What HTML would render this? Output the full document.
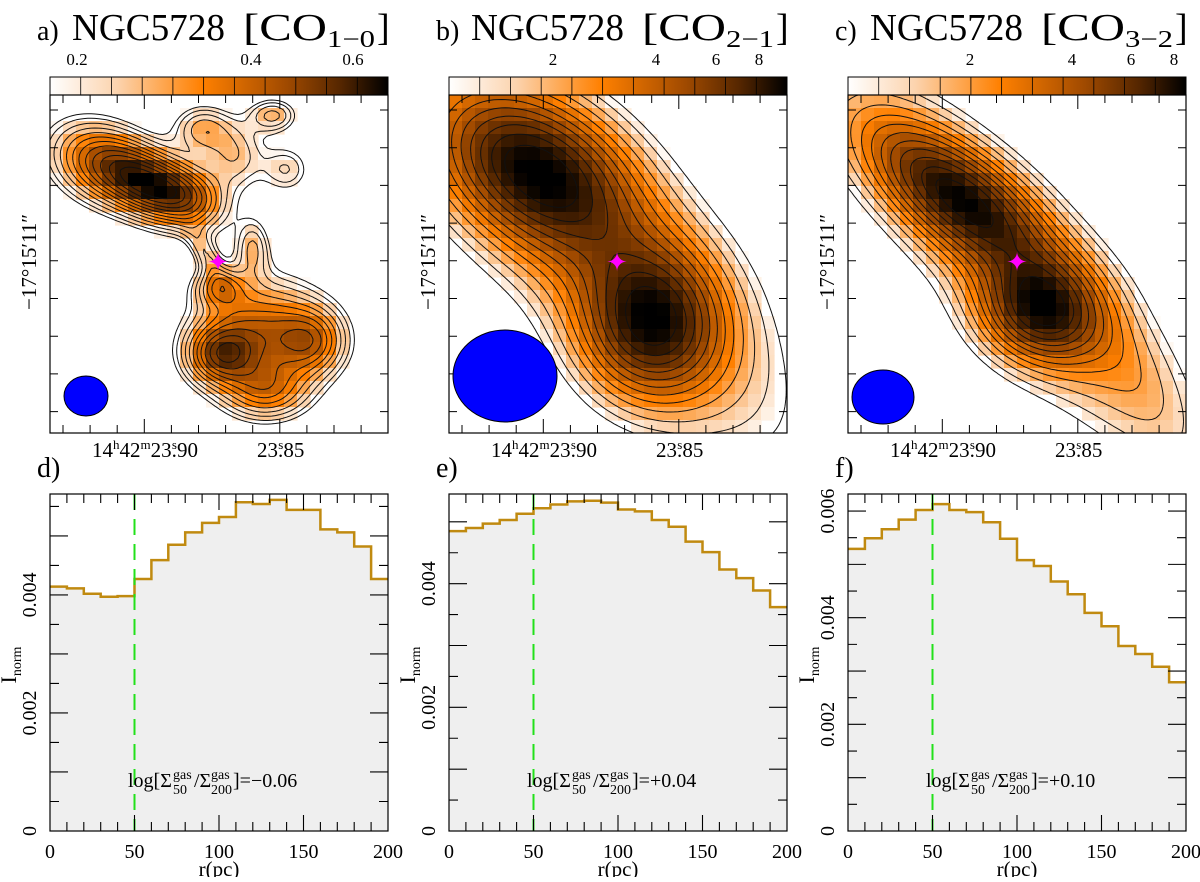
<!DOCTYPE html>
<html><head><meta charset="utf-8"><style>
body{margin:0;background:#fff}
svg text{font-family:"Liberation Serif",serif;fill:#000}
</style></head><body>
<svg id="fig" width="1200" height="877" viewBox="0 0 1200 877" xmlns="http://www.w3.org/2000/svg">
<defs>
<linearGradient id="cbar" x1="0" x2="1" y1="0" y2="0">
<stop offset="0" stop-color="#ffffff"/><stop offset="0.2" stop-color="#fcd3ad"/><stop offset="0.45" stop-color="#ff8000"/><stop offset="0.7" stop-color="#a04a00"/><stop offset="0.86" stop-color="#552600"/><stop offset="1" stop-color="#000"/>
</linearGradient>
</defs>
</svg>
<script>
// ---------- histogram data ----------
const rBins = [0,10,20,30,40,50,60,70,80,90,100,110,120,130,140,150,160,170,180,190];
const dVals = [0.00414,0.00411,0.00402,0.00397,0.00398,0.00427,0.00459,0.00485,0.00506,0.00522,0.00532,0.00557,0.00554,0.00561,0.00544,0.00544,0.00511,0.00506,0.00482,0.00427];
const eVals = [0.00485,0.00490,0.00497,0.00503,0.00513,0.00522,0.00528,0.00533,0.00534,0.00531,0.00520,0.00517,0.00503,0.00492,0.00468,0.00451,0.00423,0.00409,0.00389,0.00362];
const fVals = [0.00529,0.00549,0.00566,0.00584,0.00602,0.00613,0.00602,0.00598,0.00579,0.00548,0.00508,0.00497,0.00468,0.00444,0.00409,0.00384,0.00347,0.00332,0.00308,0.00279];
const dMax = 0.00571, eMax = 0.00545, fMax = 0.00632;
const yTickD = ["0","0.002","0.004"];
const yTickF = ["0","0.002","0.004","0.006"];
const xTickLabels = ["0","50","100","150","200"];
const ratioD = "\u22120.06", ratioE = "+0.04", ratioF = "+0.10";
// ---------- map components: [cx, cy, sx, sy, angleDeg, amp] (normalized) ----------
const compA = [[0.15,0.2,0.11,0.08,25,0.7],[0.3,0.27,0.1,0.065,30,0.9],[0.42,0.3,0.08,0.06,30,0.5],[0.45,0.1,0.06,0.05,0,0.4],[0.66,0.06,0.05,0.035,0,0.4],[0.55,0.18,0.06,0.07,0,0.35],[0.7,0.22,0.05,0.05,0,0.3],[0.46,0.47,0.025,0.06,-30,0.3],[0.5,0.57,0.05,0.04,0,0.45],[0.62,0.7,0.13,0.11,0,0.7],[0.5,0.77,0.07,0.06,0,0.65],[0.78,0.73,0.07,0.07,0,0.5],[0.64,0.88,0.09,0.06,0,0.5],[0.6,0.45,0.035,0.06,0,0.35]];
const compB = [[0.25,0.22,0.22,0.14,30,0.9],[0.6,0.68,0.14,0.15,0,0.85],[0.47,0.47,0.5,0.19,48,0.5]];
const compC = [[0.33,0.3,0.22,0.09,35,0.9],[0.57,0.64,0.12,0.1,15,0.85],[0.48,0.5,0.48,0.13,48,0.5],[0.85,0.8,0.2,0.08,60,0.12]];

const svg = document.getElementById('fig');
const NS = 'http://www.w3.org/2000/svg';
function el(tag, attrs, parent){const e=document.createElementNS(NS,tag);for(const k in attrs)e.setAttribute(k,attrs[k]);(parent||svg).appendChild(e);return e;}
function txt(x,y,s,size,parent,anchor,extra){const t=el('text',Object.assign({x:x,y:y,'font-size':size,'text-anchor':anchor||'start'},extra||{}),parent);t.innerHTML=s;return t;}

const stops=[[0,[255,255,255]],[0.2,[252,211,173]],[0.45,[255,128,0]],[0.7,[160,74,0]],[0.86,[85,38,0]],[1,[0,0,0]]];
function cmap(t){t=Math.max(0,Math.min(1,t));for(let i=1;i<stops.length;i++){if(t<=stops[i][0]){const a=stops[i-1],b=stops[i];const f=(t-a[0])/(b[0]-a[0]);return 'rgb('+a[1].map((c,j)=>Math.round(c+(b[1][j]-c)*f)).join(',')+')';}}return '#000';}
function field(comps,u,v){let s=0;for(const c of comps){const a=c[4]*Math.PI/180;const dx=u-c[0],dy=v-c[1];const x=dx*Math.cos(a)+dy*Math.sin(a),y=-dx*Math.sin(a)+dy*Math.cos(a);s+=c[5]*Math.exp(-0.5*(x*x/(c[2]*c[2])+y*y/(c[3]*c[3])));}return s;}

function mapPanel(id,x0,comps,thr,gam,label,sub,cbTicks,cbLabels,beam,star){
  const g=el('g',{});
  
  
  const top=95,W=338,H=338;
  const t1=txt(x0-13,40,label+')',28,g);
  const t2=txt(x0+22,40,'NGC5728',38,g,'start',{textLength:153,lengthAdjust:'spacingAndGlyphs'});
  const t3=txt(x0+193,40,'[CO',38,g,'start',{textLength:84,lengthAdjust:'spacingAndGlyphs'});
  const t4=txt(x0+277,47,sub,24,g,'start',{textLength:48,lengthAdjust:'spacingAndGlyphs'});
  const t5=txt(x0+327,40,']',38,g);
  const N=26,cs=W/N;let mx=0;
  const vals=[];for(let j=0;j<N;j++){vals.push([]);for(let i=0;i<N;i++){const v=field(comps,(i+0.5)/N,(j+0.5)/N);vals[j].push(v);mx=Math.max(mx,v);}}
  const hm=el('g',{},g);
  for(let j=0;j<N;j++)for(let i=0;i<N;i++){const v=vals[j][i];if(v<thr)continue;
    const r=el('rect',{x:x0+i*cs,y:top+j*cs,width:cs+0.6,height:cs+0.6,fill:cmap(Math.pow((v-thr)/(mx-thr),gam)*1.02)},hm);
    }
  const M=90,h=W/M;const F=[];for(let j=0;j<=M;j++){F.push([]);for(let i=0;i<=M;i++)F[j].push(field(comps,i/M,j/M));}
  const levels=[];const nL=12;for(let k=0;k<nL;k++)levels.push(thr*0.9+(mx-thr)*Math.pow(k/nL,1.2));
  let d='';
  for(const L of levels){for(let j=0;j<M;j++)for(let i=0;i<M;i++){
    const a=F[j][i],b=F[j][i+1],c=F[j+1][i+1],e=F[j+1][i];const pts=[];
    const X=(ii)=>x0+ii*h,Y=(jj)=>top+jj*h;
    if((a<L)!=(b<L))pts.push([X(i+(L-a)/(b-a)),Y(j)]);
    if((b<L)!=(c<L))pts.push([X(i+1),Y(j+(L-b)/(c-b))]);
    if((e<L)!=(c<L))pts.push([X(i+(L-e)/(c-e)),Y(j+1)]);
    if((a<L)!=(e<L))pts.push([X(i),Y(j+(L-a)/(e-a))]);
    if(pts.length>=2)d+='M'+pts[0][0].toFixed(1)+' '+pts[0][1].toFixed(1)+'L'+pts[1][0].toFixed(1)+' '+pts[1][1].toFixed(1);
    if(pts.length==4)d+='M'+pts[2][0].toFixed(1)+' '+pts[2][1].toFixed(1)+'L'+pts[3][0].toFixed(1)+' '+pts[3][1].toFixed(1);}}
  const cp=el('path',{d:d,stroke:'#111',fill:'none','stroke-width':1},g);
  const cb=el('rect',{x:x0,y:77,width:W,height:18,fill:'url(#cbar)',stroke:'#000','stroke-width':1},g);
  for(let k=1;k<11;k++){el('line',{x1:x0+k*W/11,x2:x0+k*W/11,y1:77,y2:95,stroke:'#000','stroke-width':0.8},g);}
  cbTicks.forEach((p,k)=>{const l=txt(x0+p,65,cbLabels[k],17,g,'middle',{'font-family':'Liberation Mono, monospace'});});
  const fr=el('rect',{x:x0,y:top,width:W,height:H,fill:'none',stroke:'#000','stroke-width':1.2},g);
  let td='';for(let k=0;k<9;k++){const y=110+k*37.7;td+='M'+x0+' '+y+'h8M'+(x0+W)+' '+y+'h-8';}
  for(let k=0;k<12;k++){const x=x0+13+k*27.1;const big=(k==3||k==8);td+='M'+x+' '+(top+H)+'v-'+(big?14:8)+'M'+x+' '+top+'v'+(big?14:8);}
  el('path',{d:td,stroke:'#000','stroke-width':1},g);
  const xl=txt(x0+42,457,'14<tspan font-size="13" dy="-8">h</tspan><tspan dy="8">42</tspan><tspan font-size="13" dy="-8">m</tspan><tspan dy="8">23.</tspan><tspan font-size="13" dy="-8" dx="-5">s</tspan><tspan dy="8">90</tspan>',21,g);
  const xl2=txt(x0+207,457,'23.<tspan font-size="13" dy="-8" dx="-5">s</tspan><tspan dy="8">85</tspan>',21,g);
  const yl=txt(0,0,'\u221217\u00b015\u203211\u2033',21,g,'middle',{transform:'translate('+(x0-14)+',262) rotate(-90)',textLength:96,lengthAdjust:'spacingAndGlyphs'});
  const bm=el('ellipse',{cx:x0+beam[0],cy:beam[1],rx:beam[2],ry:beam[3],fill:'#0000ff',stroke:'#000','stroke-width':1},g);
  const st=el('text',{x:x0+star,y:271,'font-size':26,'text-anchor':'middle',fill:'#ff00ff',style:'fill:#ff00ff'},g);st.textContent='\u2726';
}
mapPanel('a',50,compA,0.2,0.75,'a','1\u22120',[27,201,303],['0.2','0.4','0.6'],[36,396,22,20],168);
mapPanel('b',449,compB,0.2,0.6,'b','2\u22121',[104,207,267,310],['2','4','6','8'],[56,376,52,46],168);
mapPanel('c',848,compC,0.17,0.6,'c','3\u22122',[122,224,283,326],['2','4','6','8'],[35,397,31,27],169);

function histPanel(id,x0,vals,ymax,yLabels,ratio){
  const g=el('g',{});
  
  
  const top=494,bot=831,W=338;
  const X=r=>x0+r/200*W, Y=v=>bot-v/ymax*(bot-top);
  const pl=txt(x0-13,477,id+')',28,g);
  let d='M'+X(0)+' '+bot;let s='M'+X(0)+' '+Y(vals[0]);
  rBins.forEach((r,i)=>{d+='L'+X(r)+' '+Y(vals[i])+'L'+X(r+10)+' '+Y(vals[i]);s+=(i?'L'+X(r)+' '+Y(vals[i]):'')+'L'+X(r+10)+' '+Y(vals[i]);});
  d+='L'+X(200)+' '+bot+'Z';
  const area=el('path',{d:d,fill:'#efefef'},g);
  const ln=el('path',{d:s,fill:'none',stroke:'#c08a10','stroke-width':2.5},g);
  const dl=el('line',{x1:X(50),x2:X(50),y1:top,y2:bot,stroke:'#22e01a','stroke-width':2,'stroke-dasharray':'16,9'},g);
  const fr=el('rect',{x:x0,y:top,width:W,height:bot-top,fill:'none',stroke:'#000','stroke-width':1.2},g);
  let td='';for(let r=10;r<200;r+=10){const big=r%50==0;td+='M'+X(r)+' '+bot+'v-'+(big?16:9)+'M'+X(r)+' '+top+'v'+(big?16:9);}
  for(let v=0.0005;v<ymax;v+=0.0005){const big=Math.abs(v/0.001-Math.round(v/0.001))<0.01;td+='M'+x0+' '+Y(v)+'h'+(big?18:9)+'M'+(x0+W)+' '+Y(v)+'h-'+(big?18:9);}
  el('path',{d:td,stroke:'#000','stroke-width':1.1},g);
  xTickLabels.forEach((l,i)=>{const t=txt(X(i*50),858,l,20,g,'middle',{'font-family':'Liberation Mono, monospace'});});
  yLabels.forEach((l,i)=>{const t=txt(0,0,l,20,g,'middle',{'font-family':'Liberation Mono, monospace',transform:'translate('+(x0-14)+','+Y(i*0.002)+') rotate(-90)'});});
  const xt=txt(x0+169,876,'r(pc)',21,g,'middle');
  const yt=txt(0,0,'I<tspan font-size="14" dy="5">norm</tspan>',22,g,'middle',{transform:'translate('+(x0-34)+',665) rotate(-90)'});
  const an=el('g',{},g);
  const bx=x0+78,by=787;
  txt(bx,by,'log[\u03a3',20,an);
  txt(bx+45,by-8,'gas',14,an);txt(bx+45,by+7,'50',14,an);
  txt(bx+66,by,'/\u03a3',20,an);
  txt(bx+83,by-8,'gas',14,an);txt(bx+83,by+7,'200',14,an);
  txt(bx+105,by,']='+ratio,20,an);
}
histPanel('d',50,dVals,dMax,yTickD,ratioD);
histPanel('e',449,eVals,eMax,yTickD,ratioE);
histPanel('f',848,fVals,fMax,yTickF,ratioF);
</script>
</body></html>
